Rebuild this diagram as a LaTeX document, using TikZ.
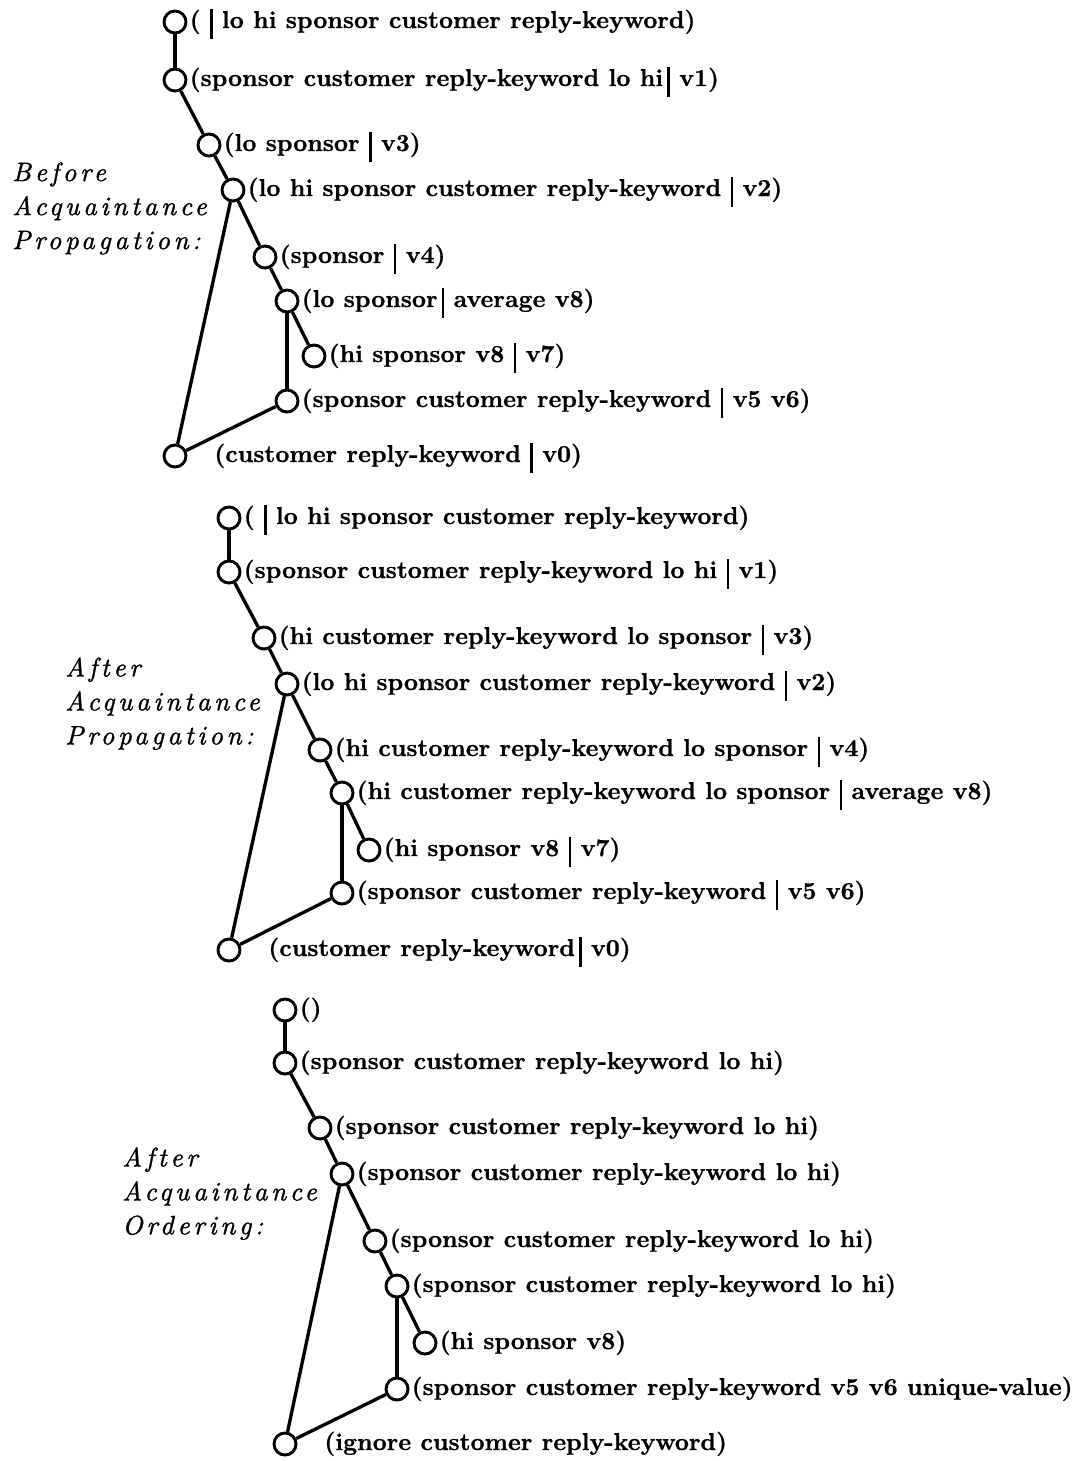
\documentclass[tikz,border=0pt]{standalone}
\usepackage{fontspec}
\newfontfamily\stagefont[LetterSpace=14,FakeBold=1.2]{lmroman10-italic.otf}
\newfontfamily\tuplefont[FakeBold=0.8]{lmroman10-bold.otf}
% heavy separator bar used inside the tuples
\newcommand\sepbar{\rule[-8pt]{2pt}{22pt}}
\begin{document}
\begin{tikzpicture}[x=0.75pt,y=-0.75pt,
  vtx/.style={circle,draw,line width=2.2pt,minimum size=16.5pt,inner sep=0pt},
  lbl/.style={anchor=base west,inner sep=0pt,font=\fontsize{18.3}{22}\selectfont\tuplefont},
  stagecap/.style={anchor=north west,align=left,inner sep=0pt,font=\fontsize{20}{25.5}\selectfont\stagefont},
  link/.style={line width=2.5pt}]
\useasboundingbox (0,0) rectangle (1074,1461);

% ---------- Before acquaintance propagation ----------
\node[stagecap] (capA) at (12,162) {Before\\Acquaintance\\Propagation:};
\node[vtx] (a1) at (175,22) {};
\node[vtx] (a2) at (175,80) {};
\node[vtx] (a3) at (209,145) {};
\node[vtx] (a4) at (233,190) {};
\node[vtx] (a5) at (265,257) {};
\node[vtx] (a6) at (287,301) {};
\node[vtx] (a7) at (314,356) {};
\node[vtx] (a8) at (287,401) {};
\node[vtx] (a9) at (175,456) {};
\node[lbl] (a1t) at ([xshift=1.5pt,yshift=-4.5pt]a1.east) {( \sepbar{} lo hi sponsor customer reply-keyword)};
\node[lbl] (a2t) at ([xshift=1.5pt,yshift=-4.5pt]a2.east) {(sponsor customer reply-keyword lo hi\,\sepbar\ v1)};
\node[lbl] (a3t) at ([xshift=1.5pt,yshift=-4.5pt]a3.east) {(lo sponsor \sepbar\ v3)};
\node[lbl] (a4t) at ([xshift=1.5pt,yshift=-4.5pt]a4.east) {(lo hi sponsor customer reply-keyword \sepbar\ v2)};
\node[lbl] (a5t) at ([xshift=1.5pt,yshift=-4.5pt]a5.east) {(sponsor \sepbar\ v4)};
\node[lbl] (a6t) at ([xshift=1.5pt,yshift=-4.5pt]a6.east) {(lo sponsor\,\sepbar\ average v8)};
\node[lbl] (a7t) at ([xshift=1.5pt,yshift=-4.5pt]a7.east) {(hi sponsor v8 \sepbar\ v7)};
\node[lbl] (a8t) at ([xshift=1.5pt,yshift=-4.5pt]a8.east) {(sponsor customer reply-keyword \sepbar\ v5 v6)};
\node[lbl] (a9t) at ([xshift=20pt,yshift=-4.5pt]a9.east) {(customer reply-keyword \sepbar\ v0)};
\draw[link] (a1) -- (a2);
\draw[link] (a2) -- (a3);
\draw[link] (a3) -- (a4);
\draw[link] (a4) -- (a5);
\draw[link] (a5) -- (a6);
\draw[link] (a6) -- (a7);
\draw[link] (a6) -- (a8);
\draw[link] (a8) -- (a9);
\draw[link] (a4) -- (a9);

% ---------- After acquaintance propagation ----------
\node[stagecap] (capB) at (65,657) {After\\Acquaintance\\Propagation:};
\node[vtx] (b1) at (229,518) {};
\node[vtx] (b2) at (229,572) {};
\node[vtx] (b3) at (264,638) {};
\node[vtx] (b4) at (287,684) {};
\node[vtx] (b5) at (320,750) {};
\node[vtx] (b6) at (342,793) {};
\node[vtx] (b7) at (369,850) {};
\node[vtx] (b8) at (342,893) {};
\node[vtx] (b9) at (229,950) {};
\node[lbl] (b1t) at ([xshift=1.5pt,yshift=-4.5pt]b1.east) {( \sepbar{} lo hi sponsor customer reply-keyword)};
\node[lbl] (b2t) at ([xshift=1.5pt,yshift=-4.5pt]b2.east) {(sponsor customer reply-keyword lo hi \sepbar\ v1)};
\node[lbl] (b3t) at ([xshift=1.5pt,yshift=-4.5pt]b3.east) {(hi customer reply-keyword lo sponsor \sepbar\ v3)};
\node[lbl] (b4t) at ([xshift=1.5pt,yshift=-4.5pt]b4.east) {(lo hi sponsor customer reply-keyword \sepbar\ v2)};
\node[lbl] (b5t) at ([xshift=1.5pt,yshift=-4.5pt]b5.east) {(hi customer reply-keyword lo sponsor \sepbar\ v4)};
\node[lbl] (b6t) at ([xshift=1.5pt,yshift=-4.5pt]b6.east) {(hi customer reply-keyword lo sponsor \sepbar\ average v8)};
\node[lbl] (b7t) at ([xshift=1.5pt,yshift=-4.5pt]b7.east) {(hi sponsor v8 \sepbar\ v7)};
\node[lbl] (b8t) at ([xshift=1.5pt,yshift=-4.5pt]b8.east) {(sponsor customer reply-keyword \sepbar\ v5 v6)};
\node[lbl] (b9t) at ([xshift=20pt,yshift=-4.5pt]b9.east) {(customer reply-keyword\,\sepbar\ v0)};
\draw[link] (b1) -- (b2);
\draw[link] (b2) -- (b3);
\draw[link] (b3) -- (b4);
\draw[link] (b4) -- (b5);
\draw[link] (b5) -- (b6);
\draw[link] (b6) -- (b7);
\draw[link] (b6) -- (b8);
\draw[link] (b8) -- (b9);
\draw[link] (b4) -- (b9);

% ---------- After acquaintance ordering ----------
\node[stagecap] (capC) at (122,1147) {After\\Acquaintance\\Ordering:};
\node[vtx] (c1) at (285,1010) {};
\node[vtx] (c2) at (285,1063) {};
\node[vtx] (c3) at (320,1128) {};
\node[vtx] (c4) at (342,1174) {};
\node[vtx] (c5) at (375,1241) {};
\node[vtx] (c6) at (397,1286) {};
\node[vtx] (c7) at (425,1343) {};
\node[vtx] (c8) at (397,1389) {};
\node[vtx] (c9) at (285,1444) {};
\node[lbl] (c1t) at ([xshift=1.5pt,yshift=-4.5pt]c1.east) {()};
\node[lbl] (c2t) at ([xshift=1.5pt,yshift=-4.5pt]c2.east) {(sponsor customer reply-keyword lo hi)};
\node[lbl] (c3t) at ([xshift=1.5pt,yshift=-4.5pt]c3.east) {(sponsor customer reply-keyword lo hi)};
\node[lbl] (c4t) at ([xshift=1.5pt,yshift=-4.5pt]c4.east) {(sponsor customer reply-keyword lo hi)};
\node[lbl] (c5t) at ([xshift=1.5pt,yshift=-4.5pt]c5.east) {(sponsor customer reply-keyword lo hi)};
\node[lbl] (c6t) at ([xshift=1.5pt,yshift=-4.5pt]c6.east) {(sponsor customer reply-keyword lo hi)};
\node[lbl] (c7t) at ([xshift=1.5pt,yshift=-4.5pt]c7.east) {(hi sponsor v8)};
\node[lbl] (c8t) at ([xshift=1.5pt,yshift=-4.5pt]c8.east) {(sponsor customer reply-keyword v5 v6 unique-value)};
\node[lbl] (c9t) at ([xshift=20pt,yshift=-4.5pt]c9.east) {(ignore customer reply-keyword)};
\draw[link] (c1) -- (c2);
\draw[link] (c2) -- (c3);
\draw[link] (c3) -- (c4);
\draw[link] (c4) -- (c5);
\draw[link] (c5) -- (c6);
\draw[link] (c6) -- (c7);
\draw[link] (c6) -- (c8);
\draw[link] (c8) -- (c9);
\draw[link] (c4) -- (c9);
\end{tikzpicture}
\end{document}
